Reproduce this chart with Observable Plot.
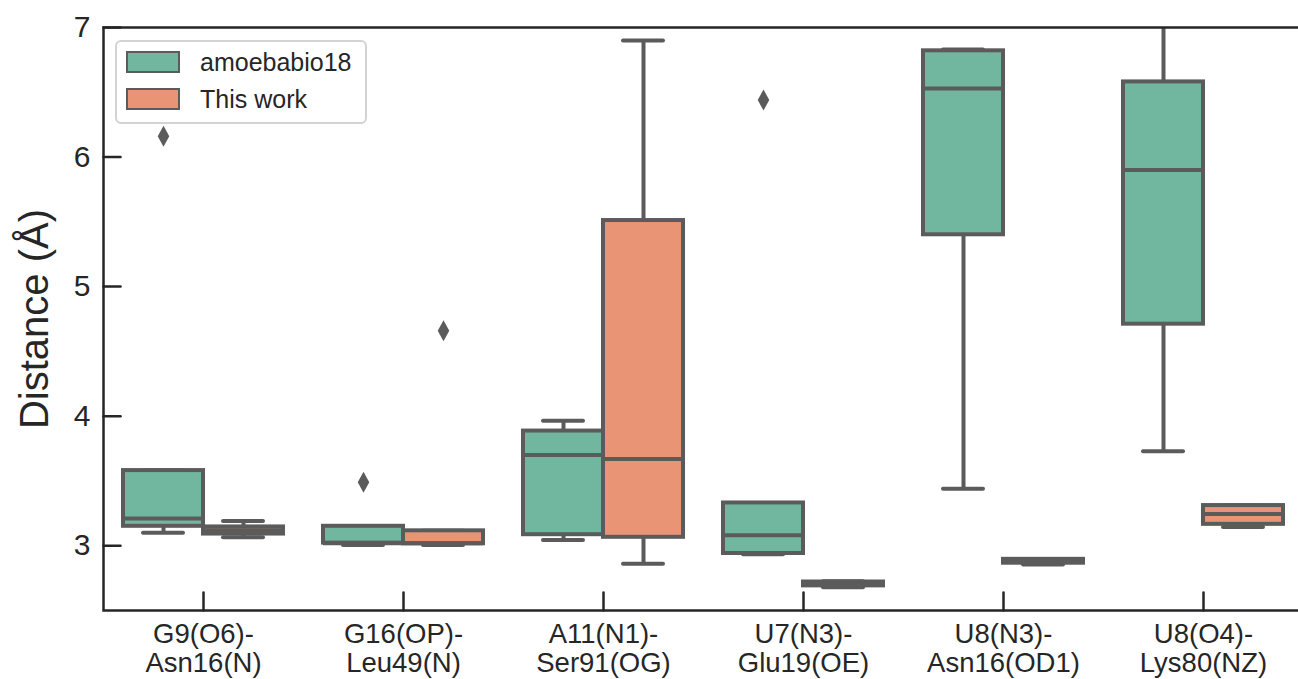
<!DOCTYPE html>
<html>
<head>
<meta charset="utf-8">
<script src="https://cdn.jsdelivr.net/npm/d3@7"></script>
<script src="https://cdn.jsdelivr.net/npm/@observablehq/plot@0.6"></script>
<style>
  html, body { margin: 0; padding: 0; background: #fff; overflow: hidden; }
  #wrap { position: relative; width: 1298px; height: 679px; font-family: "Liberation Sans", Arial, sans-serif; }
  #legend { position: absolute; left: 115px; top: 40px; width: 248px; height: 80px;
    border: 2px solid #d3d3d3; border-radius: 6px; background: rgba(255,255,255,0.85); }
  .lrow { position: absolute; left: 9px; height: 22px; display: flex; align-items: center; }
  .patch { width: 50px; height: 18px; border: 2px solid #5b5b5b; box-sizing: content-box; }
  .ltxt { margin-left: 20px; font-size: 25px; color: #262626; }
</style>
</head>
<body>
<div id="wrap"></div>
<script>
// ---- data ----
const categories = [
  "G9(O6)-\nAsn16(N)",
  "G16(OP)-\nLeu49(N)",
  "A11(N1)-\nSer91(OG)",
  "U7(N3)-\nGlu19(OE)",
  "U8(N3)-\nAsn16(OD1)",
  "U8(O4)-\nLys80(NZ)"
];
const series = ["amoebabio18", "This work"];
const colors = ["#71b7a0", "#e99575"];
// five-number summaries per category: [whiskerLow, q1, median, q3, whiskerHigh]
const amoebaStats = [
  [3.10, 3.15, 3.21, 3.58, 3.58],
  [3.005, 3.02, 3.02, 3.15, 3.15],
  [3.045, 3.085, 3.70, 3.885, 3.965],
  [2.935, 2.94, 3.08, 3.33, 3.33],
  [3.44, 5.40, 6.53, 6.82, 6.83],
  [3.73, 4.71, 5.90, 6.58, 7.20]
];
const thisWorkStats = [
  [3.065, 3.09, 3.12, 3.145, 3.19],
  [3.005, 3.015, 3.02, 3.115, 3.115],
  [2.86, 3.065, 3.67, 5.51, 6.90],
  [2.68, 2.69, 2.71, 2.72, 2.725],
  [2.855, 2.865, 2.88, 2.895, 2.895],
  [3.145, 3.165, 3.245, 3.31, 3.31]
];
const amoebaOutliers = [[6.16], [3.49], [], [6.44], [], []];
const thisWorkOutliers = [[], [4.66], [], [], [], []];
const yTicks = [3, 4, 5, 6, 7];
const xTicks = [0, 1, 2, 3, 4, 5];

// ---- build table ----
const statsBySeries = [amoebaStats, thisWorkStats];
const outBySeries = [amoebaOutliers, thisWorkOutliers];
const rows = [];
const outliers = [];
categories.forEach((c, i) => {
  series.forEach((s, j) => {
    const [lo, q1, med, q3, hi] = statsBySeries[j][i];
    rows.push({i, j, s, lo, q1, med, q3, hi});
    outBySeries[j][i].forEach(v => outliers.push({i, j, s, v}));
  });
});
const W = 0.4; // dodge width (fraction of category)
const xl = d => d.i - W + W * d.j;
const xr = d => d.i + W * d.j;
const xc = d => d.i - W / 2 + W * d.j;

const gray = "#5b5b5b";
const ink = "#262626";
const thinDiamond = {
  draw(ctx, size) {
    const h = Math.sqrt(size / Math.PI);
    const w = h * 0.55;
    ctx.moveTo(0, -h); ctx.lineTo(w, 0); ctx.lineTo(0, h); ctx.lineTo(-w, 0); ctx.closePath();
  }
};
const lineShape = {
  draw(ctx, l) { ctx.moveTo(0, 0); ctx.lineTo(0, -l); }
};

const chart = Plot.plot({
  width: 1298,
  height: 679,
  marginLeft: 103,
  marginRight: -5,
  marginTop: 27,
  marginBottom: 69,
  style: {fontFamily: "'Liberation Sans', Arial, sans-serif", background: "transparent", overflow: "hidden"},
  x: {domain: [-0.5, 5.5], axis: null},
  y: {domain: [2.5, 7], axis: null},
  color: {domain: series, range: colors},
  marks: [
    // whiskers
    Plot.ruleX(rows, {x: xc, y1: "q3", y2: "hi", stroke: gray, strokeWidth: 4, clip: true}),
    Plot.ruleX(rows, {x: xc, y1: "lo", y2: "q1", stroke: gray, strokeWidth: 4, clip: true}),
    // caps
    Plot.ruleY(rows, {y: "hi", x1: d => xc(d) - W / 4, x2: d => xc(d) + W / 4, stroke: gray, strokeWidth: 4, strokeLinecap: "round", clip: true}),
    Plot.ruleY(rows, {y: "lo", x1: d => xc(d) - W / 4, x2: d => xc(d) + W / 4, stroke: gray, strokeWidth: 4, strokeLinecap: "round", clip: true}),
    // boxes
    Plot.rect(rows, {x1: xl, x2: xr, y1: "q1", y2: "q3", fill: "s", stroke: gray, strokeWidth: 4}),
    // medians
    Plot.ruleY(rows, {y: "med", x1: xl, x2: xr, stroke: gray, strokeWidth: 4}),
    // outliers
    Plot.dot(outliers, {x: xc, y: "v", symbol: thinDiamond, r: 10.5, fill: gray, stroke: "none"}),
    // y axis: inward ticks + labels
    Plot.vector(yTicks, {y: d => d, frameAnchor: "left", rotate: 90, length: 17, anchor: "start", shape: lineShape, stroke: ink, strokeWidth: 2.5}),
    Plot.text(yTicks, {y: d => d, text: d => String(d), frameAnchor: "left", textAnchor: "end", dx: -13, fontSize: 30, fill: ink}),
    // x axis: inward ticks + labels
    Plot.vector(xTicks, {x: d => d, frameAnchor: "bottom", rotate: 0, length: 18, anchor: "start", shape: lineShape, stroke: ink, strokeWidth: 2.5}),
    Plot.text(xTicks, {x: d => d, text: i => categories[i], frameAnchor: "bottom", lineAnchor: "top", dy: 11, fontSize: 27.5, lineHeight: 1.08, fill: ink}),
    Plot.text(["Distance (Å)"], {frameAnchor: "left", rotate: -90, textAnchor: "middle", lineAnchor: "middle", dx: -68, fontSize: 40, fill: ink}),
    Plot.frame({stroke: ink, strokeWidth: 2.5})
  ]
});

const wrap = document.getElementById("wrap");
wrap.appendChild(chart);

// legend
const legend = document.createElement("div");
legend.id = "legend";
series.forEach((s, j) => {
  const row = document.createElement("div");
  row.className = "lrow";
  row.style.top = (9 + j * 37) + "px";
  const p = document.createElement("div");
  p.className = "patch";
  p.style.background = colors[j];
  const t = document.createElement("span");
  t.className = "ltxt";
  t.textContent = s;
  row.appendChild(p); row.appendChild(t);
  legend.appendChild(row);
});
wrap.appendChild(legend);
</script>
</body>
</html>
